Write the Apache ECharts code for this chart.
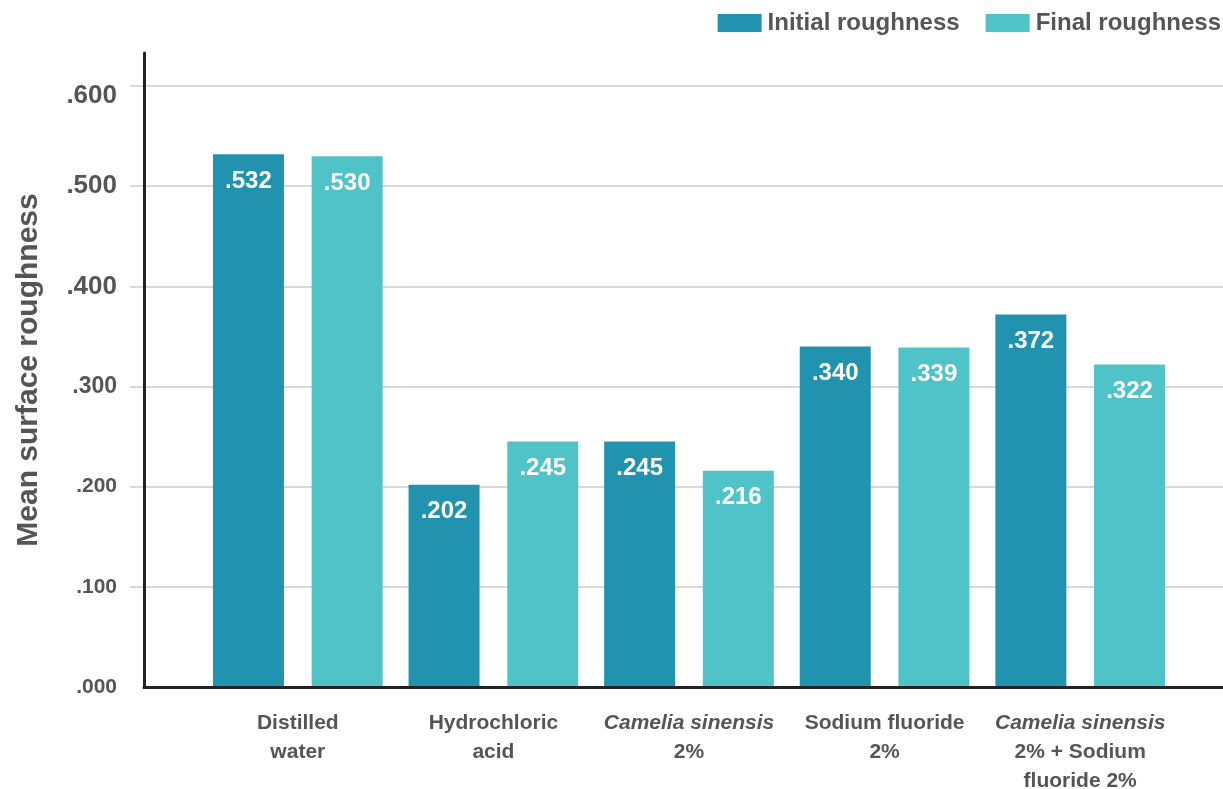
<!DOCTYPE html>
<html>
<head>
<meta charset="utf-8">
<script src="https://cdn.jsdelivr.net/npm/echarts@6/dist/echarts.min.js"></script>
<style>
  html, body { margin: 0; padding: 0; background: #fff; }
  #chart { width: 1223px; height: 789px; }
</style>
</head>
<body>
<div id="chart"></div>
<script>
const categories = [
  'Distilled\nwater',
  'Hydrochloric\nacid',
  '{i|Camelia sinensis}\n2%',
  'Sodium fluoride\n2%',
  '{i|Camelia sinensis}\n2% + Sodium\nfluoride 2%'
]
const initialRoughness = [0.532, 0.202, 0.245, 0.340, 0.372]
const finalRoughness = [0.530, 0.245, 0.216, 0.339, 0.322]
const seriesNames = ['Initial roughness', 'Final roughness']
// tick label sizes differ in the source picture (bigger near the top)
const tickLabelStyle = {0: 's', 0.1: 's', 0.2: 's', 0.3: 'm', 0.4: 'l', 0.5: 'l', 0.6: 'top'}

const FONT = '"Liberation Sans", Arial, sans-serif'
const TEXT = '#555'
const INITIAL = '#2193ae'
const FINAL = '#50c3c9'
const AXIS = '#222'
const GRIDLINE = '#d9d9d9'

const fmt = v => '.' + v.toFixed(3).slice(2)

const chart = echarts.init(document.getElementById('chart'))

const barLabel = {
  show: true,
  position: 'insideTop',
  distance: 15,
  color: '#fff',
  fontFamily: FONT,
  fontWeight: 'bold',
  fontSize: 24,
  formatter: p => fmt(p.value),
}

chart.setOption({
  animation: false,
  textStyle: {fontFamily: FONT},
  legend: {
    data: seriesNames,
    right: -3,
    top: 6,
    itemWidth: 44,
    itemHeight: 18,
    itemGap: 26,
    icon: 'rect',
    textStyle: {color: TEXT, fontSize: 24, fontWeight: 'bold', fontFamily: FONT, padding: [0, 0, 0, 1]},
  },
  grid: [
    // gridlines + tick labels
    {left: 130, right: 0, top: 86, bottom: 102, outerBoundsMode: 'none'},
    // black axis lines
    {left: 144, right: 0, top: 53, bottom: 102, outerBoundsMode: 'none'},
    // bars
    {left: 200, right: 45, top: 53, bottom: 102, outerBoundsMode: 'none'},
  ],
  xAxis: [
    {gridIndex: 0, type: 'value', min: 0, max: 1, show: false},
    {
      gridIndex: 1, type: 'value', min: 0, max: 1, z: 10,
      axisLine: {show: true, lineStyle: {color: AXIS, width: 3}},
      axisTick: {show: false}, axisLabel: {show: false}, splitLine: {show: false},
    },
    {
      gridIndex: 2, type: 'category', data: categories,
      axisLine: {show: false}, axisTick: {show: false},
      axisLabel: {
        interval: 0,
        margin: 22,
        color: TEXT,
        fontSize: 21,
        fontWeight: 'bold',
        lineHeight: 29,
        fontFamily: FONT,
        rich: {
          i: {fontStyle: 'italic', fontWeight: 'bold', fontSize: 21, lineHeight: 29, color: TEXT, fontFamily: FONT},
        },
      },
    },
  ],
  yAxis: [
    {
      gridIndex: 0, type: 'value', min: 0, max: 0.6, interval: 0.1,
      axisLine: {show: false},
      axisTick: {show: false},
      splitLine: {show: true, showMinLine: false, lineStyle: {color: GRIDLINE, width: 2}},
      axisLabel: {
        margin: 13,
        color: TEXT,
        fontFamily: FONT,
        formatter: v => {
          const key = tickLabelStyle[Math.round(v * 10) / 10] || 's'
          return '{' + key + '|' + fmt(v) + '}'
        },
        rich: {
          s: {fontSize: 21, fontWeight: 'bold', color: TEXT, fontFamily: FONT},
          m: {fontSize: 23, fontWeight: 'bold', color: TEXT, fontFamily: FONT},
          l: {fontSize: 26, fontWeight: 'bold', color: TEXT, fontFamily: FONT},
          top: {fontSize: 26, fontWeight: 'bold', color: TEXT, fontFamily: FONT, padding: [20, 0, 0, 0]},
        },
      },
    },
    {
      gridIndex: 1, type: 'value', min: 0, max: 0.633, z: 10,
      axisLine: {show: true, lineStyle: {color: AXIS, width: 3}},
      axisTick: {show: false}, axisLabel: {show: false}, splitLine: {show: false},
      name: 'Mean surface roughness',
      nameLocation: 'middle',
      nameGap: 100,
      nameRotate: 90,
      nameTextStyle: {color: TEXT, fontSize: 30, fontWeight: 'bold', fontFamily: FONT},
    },
    {gridIndex: 2, type: 'value', min: 0, max: 0.633, show: false},
  ],
  series: [
    {
      name: seriesNames[0],
      type: 'bar',
      xAxisIndex: 2,
      yAxisIndex: 2,
      data: initialRoughness,
      barWidth: 71,
      barGap: '39%',
      itemStyle: {color: INITIAL},
      label: barLabel,
    },
    {
      name: seriesNames[1],
      type: 'bar',
      xAxisIndex: 2,
      yAxisIndex: 2,
      data: finalRoughness,
      barWidth: 71,
      barGap: '39%',
      itemStyle: {color: FINAL},
      label: barLabel,
    },
  ],
})
</script>
</body>
</html>
